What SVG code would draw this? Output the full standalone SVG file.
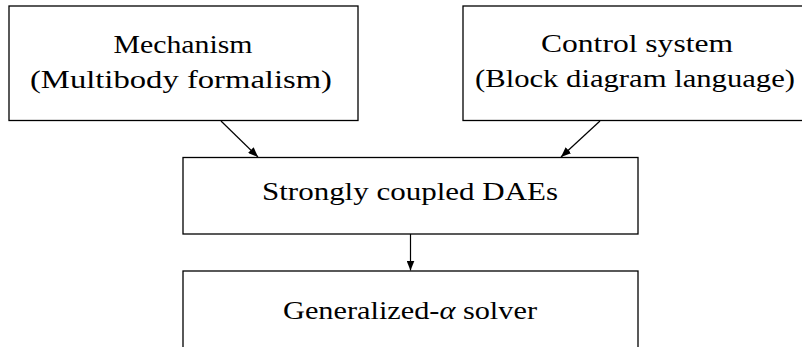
<svg xmlns="http://www.w3.org/2000/svg" width="802" height="347" viewBox="0 0 802 347">
  <style>
    .box { fill: #ffffff; stroke: #000000; stroke-width: 1.3; }
    .label { font-family: "Liberation Serif", "DejaVu Serif", serif; font-size: 26px; fill: #000000; text-anchor: middle; }
    .edge { stroke: #000000; stroke-width: 1.2; fill: none; marker-end: url(#arrow); }
  </style>
  <defs>
    <marker id="arrow" viewBox="0 0 10 8" refX="10" refY="4" markerWidth="10" markerHeight="8" markerUnits="userSpaceOnUse" orient="auto">
      <path d="M0,0 L10,4 L0,8 Z" fill="#000000"/>
    </marker>
  </defs>
  <rect width="802" height="347" fill="#ffffff"/>

  <g id="connectors">
    <line class="edge" x1="221" y1="121" x2="258" y2="157"/>
    <line class="edge" x1="600" y1="121" x2="561" y2="157"/>
    <line class="edge" x1="410.5" y1="234" x2="410.5" y2="270.5"/>
  </g>

  <g id="mechanism">
    <rect class="box" x="9" y="6" width="349" height="114.5"/>
    <text class="label" x="183" y="53" textLength="139" lengthAdjust="spacingAndGlyphs">Mechanism</text>
    <text class="label" x="181" y="88" textLength="302" lengthAdjust="spacingAndGlyphs">(Multibody formalism)</text>
  </g>

  <g id="control">
    <rect class="box" x="463" y="6" width="345" height="114.5"/>
    <text class="label" x="637" y="52" textLength="192" lengthAdjust="spacingAndGlyphs">Control system</text>
    <text class="label" x="635" y="87" textLength="320" lengthAdjust="spacingAndGlyphs">(Block diagram language)</text>
  </g>

  <g id="daes">
    <rect class="box" x="183" y="157.5" width="455" height="76.5"/>
    <text class="label" x="410" y="200" textLength="296" lengthAdjust="spacingAndGlyphs">Strongly coupled DAEs</text>
  </g>

  <g id="solver">
    <rect class="box" x="183" y="271" width="455" height="90"/>
    <text class="label" x="410" y="319" textLength="254" lengthAdjust="spacingAndGlyphs">Generalized-<tspan font-style="italic">α</tspan> solver</text>
  </g>
</svg>
